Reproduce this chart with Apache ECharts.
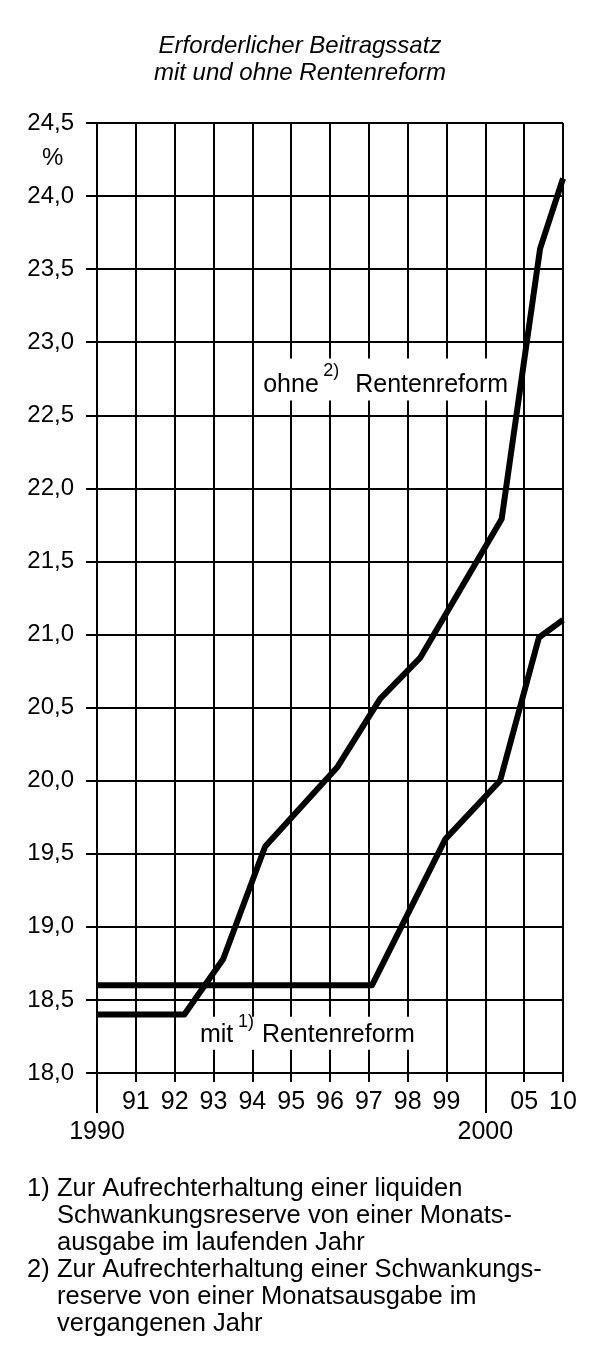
<!DOCTYPE html>
<html><head><meta charset="utf-8">
<script src="https://cdn.jsdelivr.net/npm/echarts@6/dist/echarts.min.js"></script>
<style>html,body{margin:0;padding:0;background:#fff}#c{width:600px;height:1364px}</style>
</head><body><div id="c"></div>
<script>
// ---- data ----
// x positions are measured on the chart's own (non-linear) year scale:
// 0 = 1990, 1 = 1991 ... 10 = 2000, 11 = 2005, 12 = 2010
const xTickLabels = ['1990','91','92','93','94','95','96','97','98','99','2000','05','10'];
const secondRowTicks = [0, 10];

const ohnePos = [0, 2.25, 3.25, 4.33, 6.18, 7.29, 8.32, 10.42, 11.41, 12];
const ohneVal = [18.4, 18.4, 18.78, 19.55, 20.09, 20.56, 20.84, 21.79, 23.64, 24.12];

const mitPos = [0, 7.08, 8.97, 10.38, 11.38, 12];
const mitVal = [18.6, 18.6, 19.6, 20.0, 20.98, 21.1];

const titleLines = ['Erforderlicher Beitragssatz', 'mit und ohne Rentenreform'];
const footnote1 = ['Zur Aufrechterhaltung einer liquiden', 'Schwankungsreserve von einer Monats-', 'ausgabe im laufenden Jahr'];
const footnote2 = ['Zur Aufrechterhaltung einer Schwankungs-', 'reserve von einer Monatsausgabe im', 'vergangenen Jahr'];

const FONT = "'Liberation Sans', Arial, Helvetica, sans-serif";
const BLACK = '#000';

const chart = echarts.init(document.getElementById('c'), null, {renderer: 'canvas', width: 600, height: 1364});

const gridLine = {color: BLACK, width: 2};
const option = {
  animation: false,
  backgroundColor: '#fff',
  title: {
    text: titleLines.join('\n'),
    left: 'center', top: 28,
    textStyle: {fontFamily: FONT, fontStyle: 'italic', fontWeight: 'normal', fontSize: 24, lineHeight: 27, color: BLACK}
  },
  grid: {left: 97, top: 123, width: 466, height: 950, containLabel: false},
  xAxis: [{
    type: 'value', min: 0, max: 12, interval: 1, position: 'bottom',
    axisLine: {show: true, onZero: false, lineStyle: gridLine},
    axisTick: {show: true, length: 9, lineStyle: gridLine},
    axisLabel: {margin: 17, fontSize: 25, lineHeight: 25, color: BLACK, fontFamily: FONT,
      formatter: v => secondRowTicks.includes(v) ? '' : xTickLabels[v]},
    splitLine: {show: true, lineStyle: gridLine}
  }, {
    type: 'value', min: 0, max: 12, interval: 1, position: 'bottom',
    axisLine: {show: false},
    axisTick: {show: true, length: 40, customValues: secondRowTicks, lineStyle: gridLine},
    axisLabel: {margin: 47, fontSize: 25, lineHeight: 25, color: BLACK, fontFamily: FONT,
      customValues: secondRowTicks, formatter: v => xTickLabels[v]},
    splitLine: {show: false}
  }],
  yAxis: {
    type: 'value', min: 18, max: 24.5, interval: 0.5,
    axisLine: {show: true, lineStyle: gridLine},
    axisTick: {show: true, length: 11, lineStyle: gridLine},
    axisLabel: {margin: 23, fontSize: 24, color: BLACK, fontFamily: FONT,
      formatter: v => v.toFixed(1).replace('.', ',')},
    splitLine: {show: true, lineStyle: gridLine}
  },
  series: [{
    name: 'ohne Rentenreform', type: 'line', xAxisIndex: 0, yAxisIndex: 0,
    data: ohnePos.map((x, i) => [x, ohneVal[i]]),
    symbol: 'none', z: 3,
    lineStyle: {color: BLACK, width: 6, join: 'round', cap: 'butt'}
  }, {
    name: 'mit Rentenreform', type: 'line', xAxisIndex: 0, yAxisIndex: 0,
    data: mitPos.map((x, i) => [x, mitVal[i]]),
    symbol: 'none', z: 3,
    lineStyle: {color: BLACK, width: 6, join: 'round', cap: 'butt'}
  }]
};
chart.setOption(option);

// ---- annotations ----
const toPx = p => chart.convertToPixel({xAxisIndex: 0, yAxisIndex: 0}, p);
const MID = 0.3465; // canvas 'middle' baseline offset (em) for Liberation Sans
function txt(x, baseline, text, size, opts) {
  return Object.assign({
    type: 'text', z: 10, x: x, y: baseline - MID * size,
    style: {text: text, fill: BLACK, font: size + 'px ' + FONT,
      textAlign: 'left', textVerticalAlign: 'middle', align: 'left', verticalAlign: 'middle'}
  }, opts || {});
}
function seriesLabel(anchor, first, sup, supDx, restDx, box) {
  const p = toPx(anchor);
  const bx = p[0], by = p[1];
  return [
    {type: 'rect', z: 1, shape: {x: bx + box[0], y: by + box[1], width: box[2], height: box[3]}, style: {fill: '#fff'}},
    txt(bx, by, first, 25),
    txt(bx + supDx, by - 16, sup, 18),
    txt(bx + restDx, by, 'Rentenreform', 25)
  ];
}
const ohneLabelAt = [4.28, 22.65];
const mitLabelAt = [2.65, 18.2];

const graphics = [];
graphics.push(...seriesLabel(ohneLabelAt, 'ohne', '2)', 60, 92, [-5, -35, 252, 42]));
graphics.push(...seriesLabel(mitLabelAt, 'mit', '1)', 38, 62, [-5, -27, 225, 33]));
graphics.push(txt(42, 167, '%', 24));
const fnTop = 1175, fnLH = 27, fnFont = '25.5px ' + FONT;
graphics.push({type: 'text', z: 10, left: 27, top: fnTop, style: {text: '1)', fill: BLACK, font: fnFont, lineHeight: fnLH}});
graphics.push({type: 'text', z: 10, left: 57, top: fnTop, style: {text: footnote1.join('\n'), fill: BLACK, font: fnFont, lineHeight: fnLH}});
graphics.push({type: 'text', z: 10, left: 27, top: fnTop + 3 * fnLH, style: {text: '2)', fill: BLACK, font: fnFont, lineHeight: fnLH}});
graphics.push({type: 'text', z: 10, left: 57, top: fnTop + 3 * fnLH, style: {text: footnote2.join('\n'), fill: BLACK, font: fnFont, lineHeight: fnLH}});
chart.setOption({graphic: graphics});
</script>
</body></html>
